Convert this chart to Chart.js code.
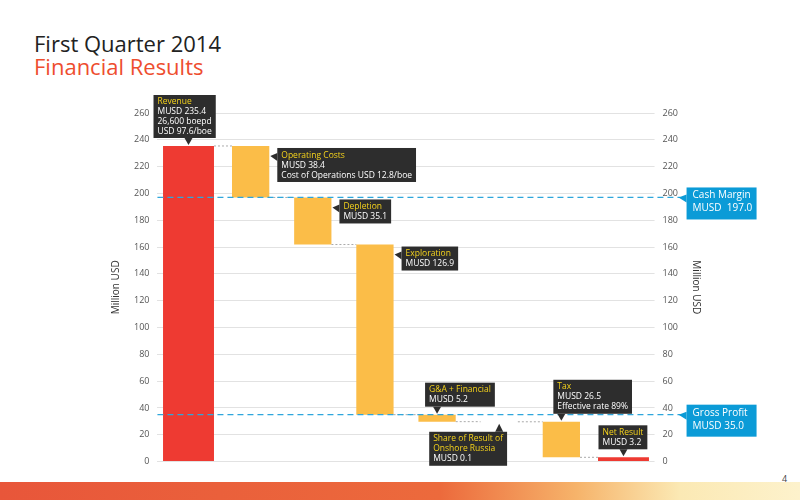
<!DOCTYPE html>
<html>
<head>
<meta charset="utf-8">
<script src="https://cdn.jsdelivr.net/npm/chart.js@4"></script>
<style>
  body { margin: 0; width: 800px; height: 500px; background: #fff; position: relative; overflow: hidden; font-family: "Open Sans", sans-serif; }
  #t1 { position: absolute; left: 34px; top: 28px; font-size: 22px; color: #222; }
  #t2 { position: absolute; left: 34px; top: 51px; font-size: 22px; color: #ee4d2e; }
  #band { position: absolute; left: 0; top: 482px; width: 800px; height: 18px;
          background: linear-gradient(90deg, #e8563a 0%, #ec6a3c 55%, #f6b36a 72%, #fbe9b4 85%, #fdf2cc 100%); }
  #pg { position: absolute; left: 782px; top: 472px; font-size: 9px; color: #444; }
  #wrap { position: absolute; left: 106px; top: 95px; width: 690px; height: 380px; }
</style>
</head>
<body>
<div id="t1">First Quarter 2014</div>
<div id="t2">Financial Results</div>
<div id="band"></div>
<div id="pg">4</div>
<div id="wrap"><canvas id="c"></canvas></div>
<script>
const categories = ['Revenue', 'Operating Costs', 'Depletion', 'Exploration', 'G&A + Financial', 'Share of Result', 'Tax', 'Net Result'];
const redBars = [[0, 235.4], null, null, null, null, null, null, [0, 3.2]];
const yellowBars = [null, [197.0, 235.4], [161.9, 197.0], [35.0, 161.9], [29.8, 35.0], [29.7, 29.8], [3.2, 29.7], null];
const cashMargin = 197.0;
const grossProfit = 35.0;

// callouts: [index, side, title lines, text lines]
const callouts = [
  [0, 'top', ['Revenue'], ['MUSD 235.4', '26,600 boepd', 'USD 97.6/boe']],
  [1, 'right', ['Operating Costs'], ['MUSD 38.4', 'Cost of Operations USD 12.8/boe']],
  [2, 'right', ['Depletion'], ['MUSD 35.1']],
  [3, 'right', ['Exploration'], ['MUSD 126.9']],
  [4, 'top', ['G&A + Financial'], ['MUSD 5.2']],
  [5, 'bottom', ['Share of Result of', 'Onshore Russia'], ['MUSD 0.1']],
  [6, 'top', ['Tax'], ['MUSD 26.5', 'Effective rate 89%']],
  [7, 'top', ['Net Result'], ['MUSD 3.2']]
];

const extras = {
  id: 'extras',
  afterDatasetsDraw(chart) {
    const ctx = chart.ctx, y = chart.scales.y, area = chart.chartArea;
    const bar = i => chart.getDatasetMeta(redBars[i] ? 0 : 1).data[i];
    const all = categories.map((c, i) => redBars[i] || yellowBars[i]);
    ctx.save();
    // connectors
    ctx.strokeStyle = '#aaa'; ctx.lineWidth = 1; ctx.setLineDash([2, 2]);
    for (let i = 0; i < all.length - 1; i++) {
      const a = bar(i), b = bar(i + 1);
      const yy = y.getPixelForValue(i === 0 ? all[0][1] : all[i][0]);
      ctx.beginPath(); ctx.moveTo(a.x + a.width / 2, yy); ctx.lineTo(b.x - b.width / 2, yy); ctx.stroke();
    }
    // blue reference lines
    ctx.strokeStyle = '#2ea6dc'; ctx.lineWidth = 1.3; ctx.setLineDash([6, 4]);
    [cashMargin, grossProfit].forEach(v => {
      const yy = y.getPixelForValue(v);
      ctx.beginPath(); ctx.moveTo(area.left, yy); ctx.lineTo(area.right + 26, yy); ctx.stroke();
    });
    ctx.setLineDash([]);
    // blue boxes
    const blue = (v, l1, l2) => {
      const yy = y.getPixelForValue(v), x0 = area.right + 32;
      ctx.fillStyle = '#0b9bd7';
      ctx.fillRect(x0, yy - 10, 70, 32);
      ctx.beginPath(); ctx.moveTo(x0, yy - 3); ctx.lineTo(x0 - 8, yy); ctx.lineTo(x0, yy + 5); ctx.fill();
      ctx.fillStyle = '#fff'; ctx.font = '10px "Open Sans"'; ctx.textBaseline = 'top'; ctx.textAlign = 'left';
      ctx.fillText(l1, x0 + 6, yy - 7); ctx.fillText(l2, x0 + 6, yy + 6);
    };
    blue(cashMargin, 'Cash Margin', 'MUSD  197.0');
    blue(grossProfit, 'Gross Profit', 'MUSD 35.0');
    // dark callouts
    ctx.font = '8.5px "Open Sans"';
    callouts.forEach(([i, side, tl, bl]) => {
      const b = bar(i), lines = tl.concat(bl);
      const w = Math.max(...lines.map(s => ctx.measureText(s).width)) + 8, h = lines.length * 10 + 4;
      const top = Math.min(b.y, b.base), bot = Math.max(b.y, b.base);
      let bx, by, p;
      if (side === 'top') {
        bx = b.x - 12; by = top - 8 - h;
        if (i === 0) bx = b.x - 35;
        if (i === 7) bx = b.x - 25;
        if (i === 6) bx = b.x - 8;
        p = [[b.x - 4, by + h], [b.x + 4, by + h], [b.x, by + h + 7]];
      } else if (side === 'bottom') {
        bx = b.x - 70; by = bot + 10; p = [[b.x - 4, by], [b.x + 4, by], [b.x, by - 8]];
      } else {
        bx = b.x + b.width / 2 + 8; by = top + 2; p = [[bx, by + 5], [bx, by + 13], [bx - 7, by + 8]];
      }
      ctx.fillStyle = '#2d2d2d';
      ctx.fillRect(bx, by, w, h);
      ctx.beginPath(); ctx.moveTo(...p[0]); ctx.lineTo(...p[1]); ctx.lineTo(...p[2]); ctx.fill();
      ctx.textAlign = 'left'; ctx.textBaseline = 'top';
      lines.forEach((s, k) => { ctx.fillStyle = k < tl.length ? '#f5d31c' : '#fff'; ctx.fillText(s, bx + 4, by + 3 + k * 10); });
    });
    ctx.restore();
  }
};

const tickFont = { size: 9, family: 'Open Sans' };
new Chart(document.getElementById('c'), {
  type: 'bar',
  data: {
    labels: categories,
    datasets: [
      { data: redBars, backgroundColor: '#ee3a32', barPercentage: 0.82, categoryPercentage: 1 },
      { data: yellowBars, backgroundColor: '#fbbd48', barPercentage: 0.6, categoryPercentage: 1 }
    ]
  },
  options: {
    responsive: true, maintainAspectRatio: false, animation: false,
    layout: { padding: { left: 0, right: 90, top: 18, bottom: 0 } },
    datasets: { bar: { grouped: false } },
    plugins: { legend: { display: false }, tooltip: { enabled: false } },
    scales: {
      x: { display: false, offset: true },
      y: {
        min: 0, max: 260,
        ticks: { stepSize: 20, font: tickFont, color: '#555', padding: 8 },
        grid: { color: '#e2e2e2', drawTicks: false },
        border: { display: false },
        title: { display: true, text: 'Million USD', font: { size: 10, family: 'Open Sans' }, color: '#333' }
      },
      y2: {
        position: 'right', min: 0, max: 260,
        ticks: { stepSize: 20, font: tickFont, color: '#555', padding: 8 },
        grid: { display: false, drawTicks: false },
        border: { display: false },
        title: { display: true, text: 'Million USD', font: { size: 10, family: 'Open Sans' }, color: '#333' }
      }
    }
  },
  plugins: [extras]
});
</script>
</body>
</html>
